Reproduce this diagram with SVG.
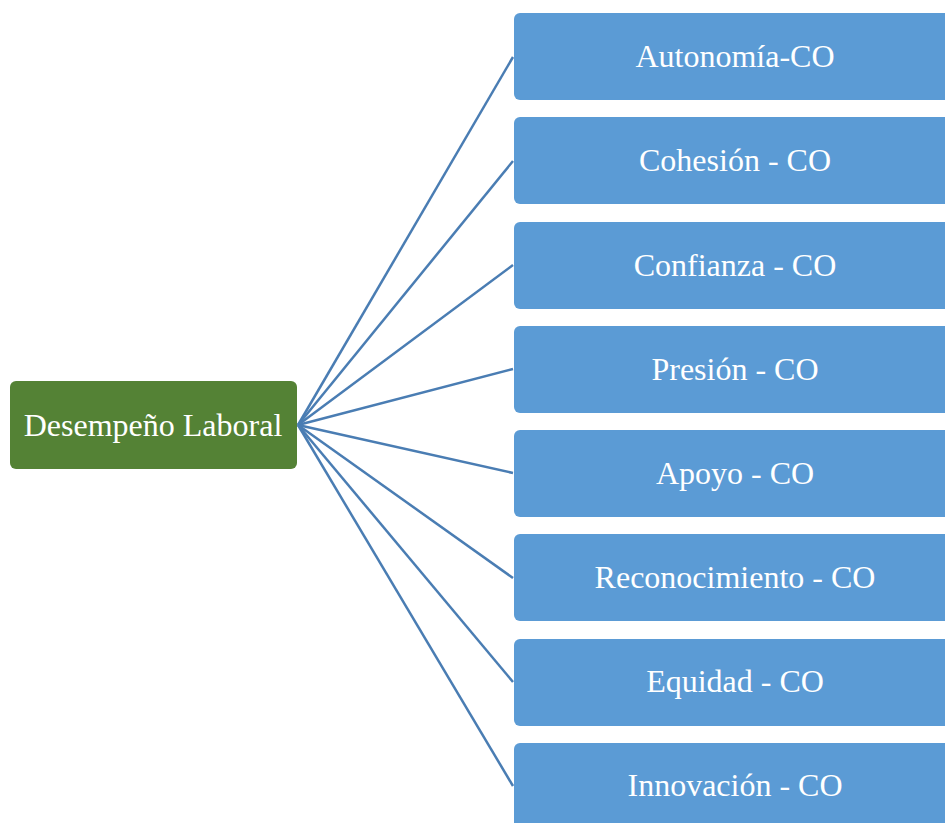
<svg xmlns="http://www.w3.org/2000/svg" width="945" height="823" viewBox="0 0 945 823">
<style>
.conn line{stroke:#4a7db3;stroke-width:2.5;fill:none}
.leaf rect{fill:#5b9bd5}
.root rect{fill:#548235}
text{font-family:"Liberation Serif","Times New Roman",serif;font-size:32px;fill:#ffffff;text-anchor:middle;dominant-baseline:central}
</style>
<rect width="945" height="823" fill="#ffffff"/>
<g id="connectors" class="conn">
<line x1="298" y1="425" x2="513" y2="57"/>
<line x1="298" y1="425" x2="513" y2="161"/>
<line x1="298" y1="425" x2="513" y2="265"/>
<line x1="298" y1="425" x2="513" y2="369"/>
<line x1="298" y1="425" x2="513" y2="473"/>
<line x1="298" y1="425" x2="513" y2="578"/>
<line x1="298" y1="425" x2="513" y2="682"/>
<line x1="298" y1="425" x2="513" y2="786"/>
</g>
<g id="root" class="root"><rect x="10" y="381" width="287" height="88" rx="6"/><text x="153" y="425">Desempeño Laboral</text></g>
<g id="n1" class="leaf"><rect x="514" y="13" width="442" height="87" rx="6"/><text x="735" y="56">Autonomía-CO</text></g>
<g id="n2" class="leaf"><rect x="514" y="117" width="442" height="87" rx="6"/><text x="735" y="160">Cohesión - CO</text></g>
<g id="n3" class="leaf"><rect x="514" y="222" width="442" height="87" rx="6"/><text x="735" y="265">Confianza - CO</text></g>
<g id="n4" class="leaf"><rect x="514" y="326" width="442" height="87" rx="6"/><text x="735" y="369">Presión - CO</text></g>
<g id="n5" class="leaf"><rect x="514" y="430" width="442" height="87" rx="6"/><text x="735" y="473">Apoyo - CO</text></g>
<g id="n6" class="leaf"><rect x="514" y="534" width="442" height="87" rx="6"/><text x="735" y="577">Reconocimiento - CO</text></g>
<g id="n7" class="leaf"><rect x="514" y="639" width="442" height="87" rx="6"/><text x="735" y="681">Equidad - CO</text></g>
<g id="n8" class="leaf"><rect x="514" y="743" width="442" height="87" rx="6"/><text x="735" y="785">Innovación - CO</text></g>
</svg>
